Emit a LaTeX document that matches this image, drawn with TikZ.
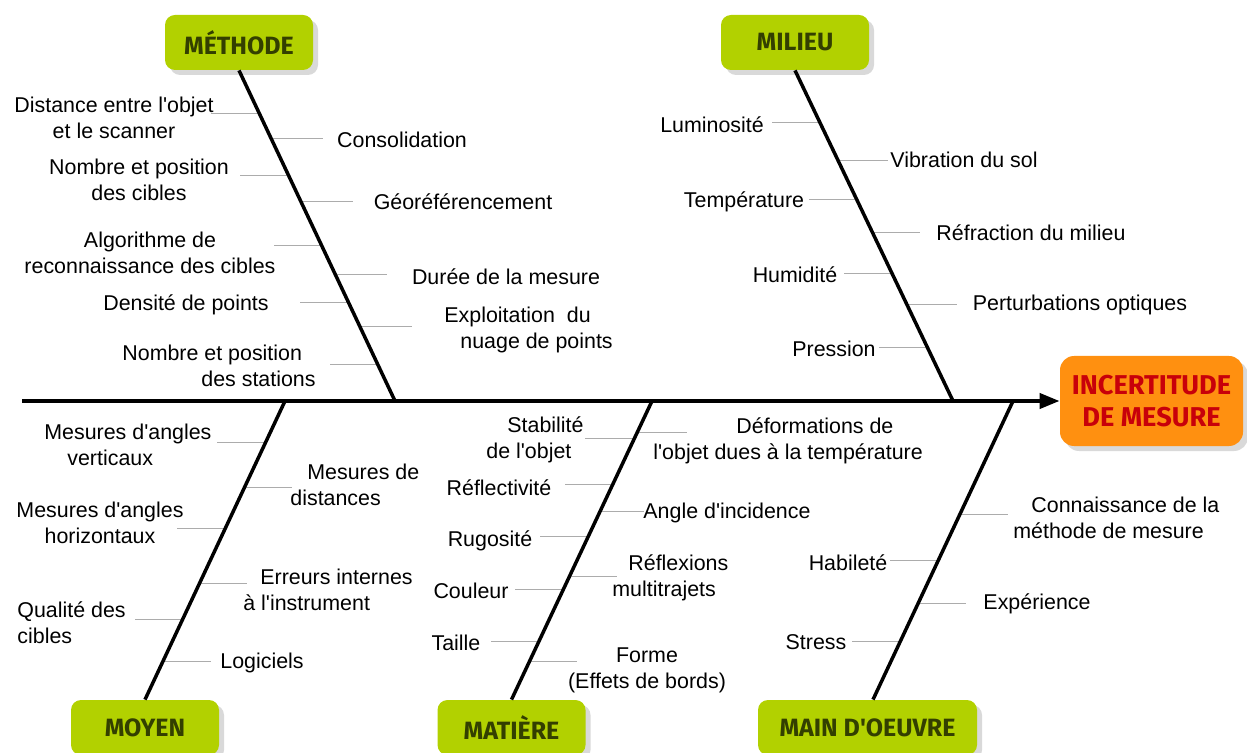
\documentclass[tikz,border=0pt]{standalone}
\usepackage{fontspec}
\setmainfont{Liberation Sans}
\newfontfamily\catfont{Fira Sans}
\usetikzlibrary{positioning,calc,arrows.meta,shadows}
\definecolor{catgreen}{HTML}{B2D100}
\definecolor{cattext}{HTML}{333F00}
\definecolor{efforange}{HTML}{FF9010}
\definecolor{effred}{HTML}{C8000A}
\definecolor{shadowgray}{HTML}{D9D9D9}
\newcommand{\apo}{\textquotesingle}

\begin{document}
\begin{tikzpicture}[x=0.5pt, y=-0.5pt,
  cat/.style={fill=catgreen, rounded corners=5pt, minimum width=74pt,
              minimum height=27.5pt, inner sep=0pt, text=cattext,
              font=\catfont\bfseries\fontsize{12.5}{15}\selectfont,
              drop shadow={shadow xshift=2.5pt, shadow yshift=-2.5pt,
                           fill=shadowgray, opacity=1}},
  effect/.style={fill=efforange, rounded corners=7pt, minimum width=91.5pt,
                 minimum height=45pt, align=center, text=effred,
                 font=\catfont\bfseries\fontsize{13.6}{16}\selectfont,
                 drop shadow={shadow xshift=2.5pt, shadow yshift=-2.5pt,
                              fill=shadowgray, opacity=1}},
  spine/.style={line width=2pt, -{Triangle[length=10pt,width=7.5pt]}},
  bone/.style={line width=1.75pt},
  tick/.style={gray!65, line width=0.5pt},
  cause/.style={font=\fontsize{10.7}{13}\selectfont, align=center, inner sep=0pt},
  causel/.style={cause, align=left, anchor=west},
]
\useasboundingbox (0,0) rectangle (1247,753);

% categories and effect
\node[cat] (methode) at (239,42.5) {MÉTHODE};
\node[cat] (milieu) at (795,42.5) {MILIEU};
\node[cat] (moyen) at (145,727.5) {MOYEN};
\node[cat] (matiere) at (511.5,727.5) {MATIÈRE};
\node[cat, minimum width=109.5pt] (mdo) at (867.5,727.5) {MAIN D\apo OEUVRE};
\node[effect] (effect) at (1151.5,401) {INCERTITUDE\\DE MESURE};

% joints on the spine
\coordinate (tail) at (22,401);
\coordinate (mj) at (395,401);
\coordinate (lj) at (953,401);
\coordinate (yj) at (285,401);
\coordinate (tj) at (652,401);
\coordinate (oj) at (1013,401);
\coordinate (ob) at (mdo.north -| 873,0);

% ticks
\foreach \f/\l [count=\i] in {0.130/-48,0.317/-48,0.529/-48,0.701/-48,0.891/-48,
                              0.205/52,0.396/52,0.616/52,0.776/52}
  {\coordinate (mt\i) at ($(methode.south)!\f!(mj)$);
   \draw[tick] (mt\i) -- ++(\l,0);}
\foreach \f/\l [count=\i] in {0.157/-48,0.390/-48,0.613/-48,0.837/-48,
                              0.272/50,0.489/48,0.707/50}
  {\coordinate (lt\i) at ($(milieu.south)!\f!(lj)$);
   \draw[tick] (lt\i) -- ++(\l,0);}
\foreach \f/\l [count=\i] in {0.140/-48,0.428/-48,0.732/-48,
                              0.291/48,0.612/48,0.873/48}
  {\coordinate (yt\i) at ($(yj)!\f!(moyen.north)$);
   \draw[tick] (yt\i) -- ++(\l,0);}
\foreach \f/\l [count=\i] in {0.124/-50,0.281/-48,0.455/-48,0.632/-48,0.806/-48,
                              0.107/50,0.371/44,0.589/48,0.873/48}
  {\coordinate (tt\i) at ($(tj)!\f!(matiere.north)$);
   \draw[tick] (tt\i) -- ++(\l,0);}
\foreach \f/\l [count=\i] in {0.535/-48,0.806/-48,0.381/48,0.679/48}
  {\coordinate (ot\i) at ($(oj)!\f!(ob)$);
   \draw[tick] (ot\i) -- ++(\l,0);}

% spine and bones
\draw[spine] (tail) -- (effect.west);
\draw[bone] (methode.south) -- (mj);
\draw[bone] (milieu.south) -- (lj);
\draw[bone] (yj) -- (moyen.north);
\draw[bone] (tj) -- (matiere.north);
\draw[bone] (oj) -- (ob);

% causes: methode
\node[cause] (m1) at (114,118) {Distance entre l\apo objet\\et le scanner};
\node[cause] (m2) at (139,180) {Nombre et position\\des cibles};
\node[cause] (m3) at (150,253) {Algorithme de\\reconnaissance des cibles};
\node[cause] (m4) at (186,305) {Densité de points};
\node[causel] (m5) at (122,366) {Nombre et position\\\hspace*{39.5pt}des stations};
\node[cause] (m6) at (402,140) {Consolidation};
\node[cause] (m7) at (463,202) {Géoréférencement};
\node[cause] (m8) at (506,277) {Durée de la mesure};
\node[causel] (m9) at (444,330) {Exploitation\ \ du\\\hspace*{8pt}nuage de points};

% causes: milieu
\node[cause] (l1) at (712,125) {Luminosité};
\node[cause] (l2) at (744,202) {Température};
\node[cause] (l3) at (795,275) {Humidité};
\node[cause] (l4) at (834,349) {Pression};
\node[cause] (l5) at (964,160) {Vibration du sol};
\node[cause] (l6) at (1031,233) {Réfraction du milieu};
\node[cause] (l7) at (1080,305) {Perturbations optiques};

% causes: moyen
\node[causel] (y1) at (44,445) {Mesures d\apo angles\\\hspace*{11.5pt}verticaux};
\node[cause] (y2) at (100,523) {Mesures d\apo angles\\horizontaux};
\node[causel] (y3) at (17,623) {Qualité des\\cibles};
\node[causel] (y4) at (290,485) {\hspace*{8.5pt}Mesures de\\distances};
\node[causel] (y5) at (243,590) {\hspace*{8.5pt}Erreurs internes\\à l\apo instrument};
\node[cause] (y6) at (262,663) {Logiciels};

% causes: matiere
\node[causel] (t1) at (486,440) {\hspace*{10.5pt}Stabilité\\de l\apo objet};
\node[cause] (t2) at (499,488) {Réflectivité};
\node[cause] (t3) at (490,541) {Rugosité};
\node[cause] (t4) at (471,591) {Couleur};
\node[cause] (t5) at (456,643) {Taille};
\node[causel] (t6) at (653,441) {\hspace*{41.5pt}Déformations de\\l\apo objet dues à la température};
\node[cause] (t7) at (727,513) {Angle d\apo incidence};
\node[causel] (t8) at (612,578) {\hspace*{8pt}Réflexions\\multitrajets};
\node[cause] (t9) at (647,670) {Forme\\(Effets de bords)};

% causes: main d'oeuvre
\node[causel] (o1) at (1013,518) {\hspace*{9pt}Connaissance de la\\méthode de mesure};
\node[cause] (o2) at (848,563) {Habileté};
\node[cause] (o3) at (1037,604) {Expérience};
\node[cause] (o4) at (816,642) {Stress};

\end{tikzpicture}
\end{document}
